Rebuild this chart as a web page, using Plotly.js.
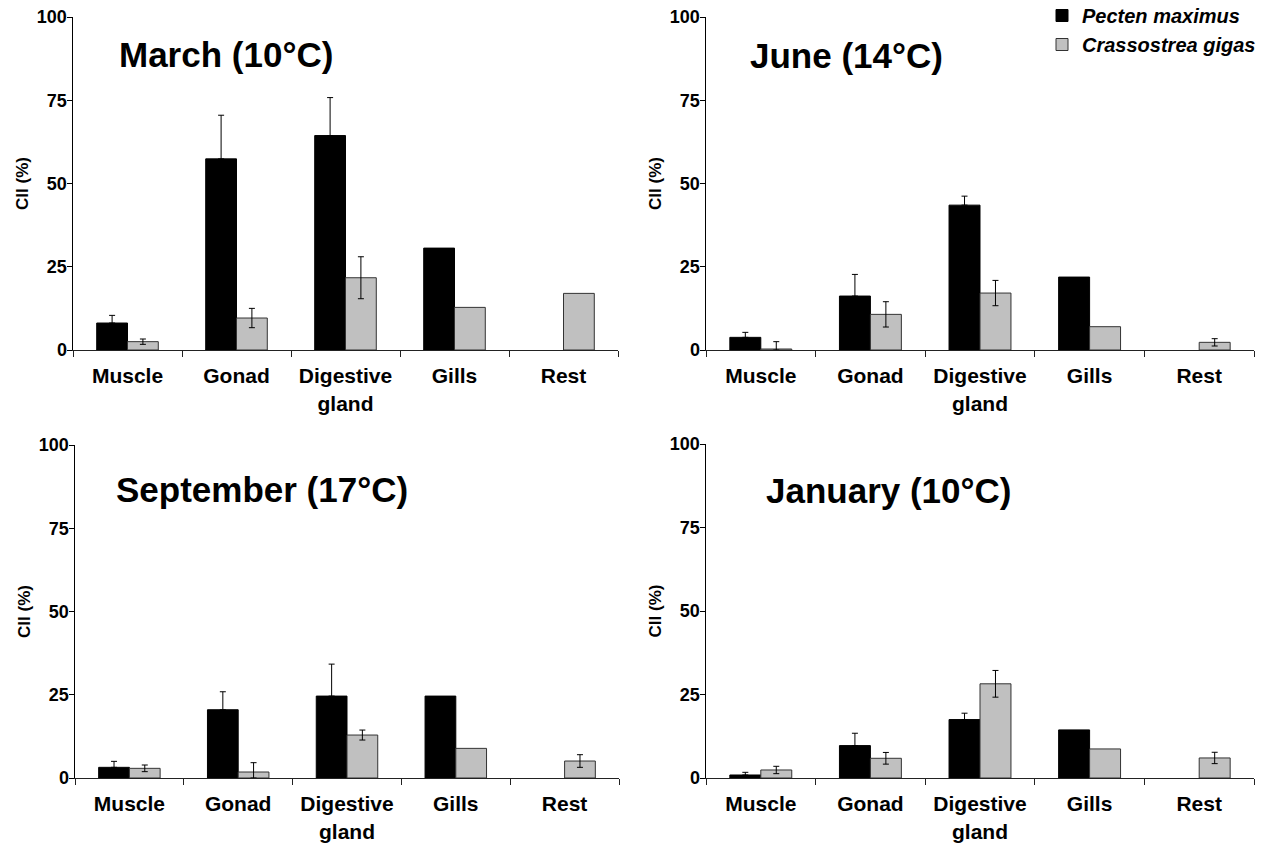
<!DOCTYPE html>
<html>
<head>
<meta charset="utf-8">
<script src="https://cdn.plot.ly/plotly-3.0.1.min.js"></script>
<style>html,body{margin:0;padding:0;background:#fff;}#chart{width:1276px;height:843px;}</style>
</head>
<body>
<div id="chart"></div>
<script>
// ---- data ----
var categories = ["Muscle", "Gonad", "Digestive<br>gland", "Gills", "Rest"];
var panelTitles = ["March (10°C)", "June (14°C)", "September (17°C)", "January (10°C)"];
var seriesNames = ["Pecten maximus", "Crassostrea gigas"];
var yTicks = [0, 25, 50, 75, 100];

// Pecten maximus means and SE (null = no value / no error bar)
var marchPecten = [8.1, 57.4, 64.4, 30.6, null];
var marchPectenErr = [2.3, 13.1, 11.4, null, null];
var junePecten = [3.8, 16.2, 43.5, 21.9, null];
var junePectenErr = [1.5, 6.5, 2.7, null, null];
var septPecten = [3.2, 20.5, 24.6, 24.6, null];
var septPectenErr = [1.8, 5.4, 9.6, null, null];
var janPecten = [0.9, 9.7, 17.5, 14.4, null];
var janPectenErr = [0.8, 3.7, 1.9, null, null];

// Crassostrea gigas means and SE
var marchCrass = [2.5, 9.6, 21.7, 12.8, 17.0];
var marchCrassErr = [0.8, 2.9, 6.3, null, null];
var juneCrass = [0.3, 10.7, 17.1, 7.0, 2.3];
var juneCrassErr = [2.2, 3.8, 3.8, null, 1.1];
var septCrass = [2.9, 1.8, 12.9, 8.9, 5.1];
var septCrassErr = [1.0, 2.8, 1.5, null, 1.9];
var janCrass = [2.4, 5.9, 28.2, 8.7, 6.0];
var janCrassErr = [1.1, 1.75, 4.0, null, 1.7];

var pectenSets = [[marchPecten, marchPectenErr], [junePecten, junePectenErr], [septPecten, septPectenErr], [janPecten, janPectenErr]];
var crassSets = [[marchCrass, marchCrassErr], [juneCrass, juneCrassErr], [septCrass, septCrassErr], [janCrass, janCrassErr]];

// ---- layout geometry ----
var W = 1276, H = 843;
var xDomains = [[73 / W, 618 / W], [706 / W, 1254 / W], [75 / W, 619 / W], [706 / W, 1254 / W]];
var yDomains = [[1 - 350 / H, 1 - 17 / H], [1 - 350 / H, 1 - 17 / H], [1 - 778 / H, 1 - 445 / H], [1 - 778 / H, 1 - 444 / H]];
var titlePos = [[226, 54], [846, 55], [262, 489], [888, 490]];

var FONT = "Liberation Sans, Arial, Helvetica, sans-serif";
var traces = [];
var layout = {
  width: W, height: H,
  margin: {l: 0, r: 0, t: 0, b: 0, autoexpand: false},
  paper_bgcolor: "#fff", plot_bgcolor: "rgba(0,0,0,0)",
  barmode: "group", bargap: 0.435, bargroupgap: 0,
  showlegend: true,
  legend: {x: 1042 / W, y: 1 + 4 / H, xanchor: "left", yanchor: "top",
           font: {family: FONT, size: 20, color: "#000", weight: "bold", style: "italic"},
           bgcolor: "rgba(0,0,0,0)", tracegroupgap: 0, itemwidth: 30},
  annotations: [],
  font: {family: FONT, color: "#000"}
};

// missing error values become NaN so that no error bar (or cap) is drawn there
function mapErr(arr, f) { return arr.map(function (e, k) { return e === null ? NaN : f(e, k); }); }

for (var i = 0; i < 4; i++) {
  var sfx = i === 0 ? "" : String(i + 1);
  var xa = "x" + sfx, ya = "y" + sfx;
  var pErr = pectenSets[i][1], cErr = crassSets[i][1], cVal = crassSets[i][0];
  traces.push({
    type: "bar", x: categories, y: pectenSets[i][0], name: seriesNames[0],
    xaxis: xa, yaxis: ya, legendgroup: "p", showlegend: i === 0,
    marker: {color: "#000", line: {color: "#000", width: 1}},
    error_y: {type: "data", array: mapErr(pErr, function (e) { return e; }),
              arrayminus: mapErr(pErr, function () { return 0; }), symmetric: false,
              visible: true, color: "#000", thickness: 1, width: 3},
    hoverinfo: "y"
  });
  traces.push({
    type: "bar", x: categories, y: cVal, name: seriesNames[1],
    xaxis: xa, yaxis: ya, legendgroup: "c", showlegend: i === 0,
    marker: {color: "#c0c0c0", line: {color: "#333", width: 1}},
    error_y: {type: "data", array: mapErr(cErr, function (e) { return e; }),
              arrayminus: mapErr(cErr, function (e, k) { return Math.min(e, cVal[k] || 0); }),
              symmetric: false, visible: true, color: "#000", thickness: 1, width: 3},
    hoverinfo: "y"
  });
  layout["xaxis" + sfx] = {
    domain: xDomains[i], anchor: ya, type: "category", automargin: false,
    showline: true, linecolor: "#222", linewidth: 1.2,
    ticks: "outside", tickson: "boundaries", ticklen: 6, tickcolor: "#222", tickwidth: 1,
    ticklabelstandoff: 7,
    showgrid: false, zeroline: false, fixedrange: true,
    tickfont: {family: FONT, size: 21, color: "#000", weight: "bold"}
  };
  layout["yaxis" + sfx] = {
    domain: yDomains[i], anchor: xa, range: [0, 100], automargin: false,
    tickvals: yTicks, ticktext: yTicks.map(String),
    showline: true, linecolor: "#000", linewidth: 1.5,
    ticks: "outside", ticklen: 5, tickcolor: "#000", tickwidth: 1,
    ticklabelstandoff: -4,
    showgrid: false, zeroline: false, fixedrange: true,
    tickfont: {family: FONT, size: 18, color: "#000", weight: "bold"},
    title: {text: "CII (%)", standoff: 4, font: {family: FONT, size: 17, color: "#000", weight: "bold"}}
  };
  layout.annotations.push({
    xref: "paper", yref: "paper", x: titlePos[i][0] / W, y: 1 - titlePos[i][1] / H,
    xanchor: "center", yanchor: "middle", showarrow: false,
    text: panelTitles[i], font: {family: FONT, size: 35, color: "#000", weight: "bold"}
  });
}

Plotly.newPlot("chart", traces, layout, {displayModeBar: false, staticPlot: true});
</script>
</body>
</html>
